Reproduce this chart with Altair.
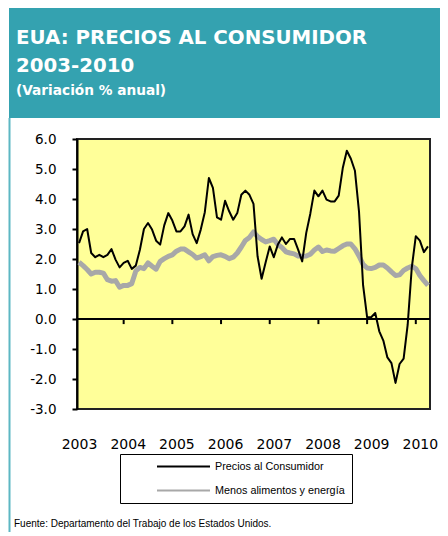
import altair as alt
import pandas as pd

# ---- data (monthly, Jan 2003 .. Mar 2010) ----
cpi = [2.53, 2.92, 3.00, 2.20, 2.06, 2.14, 2.06, 2.14, 2.33, 1.98, 1.72, 1.87,
       1.94, 1.67, 1.78, 2.31, 3.00, 3.20, 2.98, 2.61, 2.48, 3.12, 3.53, 3.28,
       2.92, 2.92, 3.09, 3.48, 2.83, 2.53, 2.98, 3.56, 4.70, 4.37, 3.39, 3.31,
       3.94, 3.59, 3.31, 3.53, 4.14, 4.28, 4.14, 3.84, 2.09, 1.34, 1.89, 2.42,
       2.06, 2.48, 2.72, 2.50, 2.67, 2.67, 2.31, 1.92, 2.87, 3.51, 4.28, 4.09,
       4.28, 3.98, 3.92, 3.92, 4.11, 5.03, 5.61, 5.34, 4.94, 3.59, 1.14, 0.06,
       0.06, 0.20, -0.41, -0.72, -1.28, -1.47, -2.13, -1.50, -1.32, -0.19, 1.70, 2.76,
       2.61, 2.23, 2.42]
core = [1.89, 1.78, 1.65, 1.50, 1.56, 1.56, 1.53, 1.31, 1.26, 1.28, 1.06, 1.12,
        1.12, 1.18, 1.60, 1.72, 1.68, 1.87, 1.76, 1.66, 1.92, 2.01, 2.09, 2.14,
        2.26, 2.33, 2.33, 2.24, 2.15, 2.03, 2.08, 2.14, 1.94, 2.08, 2.12, 2.14,
        2.09, 2.01, 2.06, 2.20, 2.40, 2.62, 2.72, 2.90, 2.75, 2.65, 2.57, 2.61,
        2.66, 2.48, 2.38, 2.24, 2.20, 2.17, 2.10, 2.09, 2.10, 2.16, 2.30, 2.40,
        2.25, 2.30, 2.27, 2.26, 2.35, 2.44, 2.50, 2.50, 2.34, 2.10, 1.82, 1.70,
        1.68, 1.72, 1.80, 1.80, 1.70, 1.57, 1.45, 1.47, 1.62, 1.70, 1.76, 1.68,
        1.45, 1.28, 1.12]
months = list(range(len(cpi)))
series = ["Precios al Consumidor", "Menos alimentos y energía"]
year_label_months = [0, 12, 24, 36, 48, 60, 72, 84]
dec_tick_months = [11, 23, 35, 47, 59, 71, 83]
y_ticks = [-3, -2, -1, 0, 1, 2, 3, 4, 5, 6]

title1 = "EUA: PRECIOS AL CONSUMIDOR"
title2 = "2003-2010"
title3 = "(Variación % anual)"
footer = "Fuente:  Departamento del Trabajo de los Estados Unidos."

TEAL = "#34A2B0"

df = pd.DataFrame({
    "mes": months * 2,
    "valor": cpi + core,
    "serie": [series[0]] * len(cpi) + [series[1]] * len(core),
})
ticks_df = pd.DataFrame({"mes": dec_tick_months})
one = alt.Data(values=[{}])

x_scale = alt.Scale(domain=[-0.5, 86.5], nice=False, zero=False)
y_scale = alt.Scale(domain=[-3, 6], nice=False, zero=False)

x_axis = alt.Axis(values=year_label_months,
                  labelExpr="'' + (2003 + datum.value / 12)",
                  ticks=False, tickSize=0, domain=False, grid=False,
                  labelFont="DejaVu Sans", labelFontSize=14,
                  labelColor="black", labelBaseline="middle",
                  labelOverlap=False, labelFlush=False,
                  labelPadding=35, title=None)
y_axis = alt.Axis(values=y_ticks,
                  labelExpr="(datum.value < 0 ? '-' : '') + format(abs(datum.value), '.1f')",
                  grid=False, domain=True, domainColor="black", domainWidth=2,
                  ticks=True, tickColor="black", tickWidth=2, tickSize=5,
                  labelFont="DejaVu Sans", labelFontSize=13.5,
                  labelOverlap=False, labelFlush=False,
                  labelColor="black", labelPadding=16, title=None)

x_enc = alt.X("mes:Q", scale=x_scale, axis=x_axis)
y_enc = alt.Y("valor:Q", scale=y_scale, axis=y_axis)
color_enc = alt.Color("serie:N",
                      scale=alt.Scale(domain=series, range=["#000000", "#A8A8A8"]),
                      legend=alt.Legend(orient="none", legendX=43, legendY=315,
                                        title=None, symbolType="stroke",
                                        symbolSize=2809, symbolStrokeWidth=2,
                                        clipHeight=11,
                                        symbolOffset=29, labelOffset=4,
                                        labelFont="Liberation Sans", labelFontSize=10.8,
                                        labelColor="black", padding=7, rowPadding=12,
                                        strokeColor="black", fillColor="white"))

gray_line = alt.Chart(df).transform_filter(
    alt.datum.serie == series[1]
).mark_line(strokeWidth=5, strokeJoin="round").encode(x=x_enc, y=y_enc, color=color_enc)

black_line = alt.Chart(df).transform_filter(
    alt.datum.serie == series[0]
).mark_line(strokeWidth=2, strokeJoin="round").encode(x=x_enc, y=y_enc, color=color_enc)

zero_line = alt.Chart(one).mark_rule(color="black", strokeWidth=2).encode(
    y=alt.YDatum(0, scale=y_scale, axis=y_axis))
zero_ticks = alt.Chart(ticks_df).mark_rule(color="black", strokeWidth=2).encode(
    x=x_enc, y=alt.YDatum(0, scale=y_scale, axis=y_axis), y2=alt.Y2Datum(-0.17))

header = alt.Chart(one).mark_rect(color=TEAL).encode(
    x=alt.value(-68), x2=alt.value(380), y=alt.value(-131), y2=alt.value(-21))
side = alt.Chart(one).mark_rule(color="#5DB7C3", strokeWidth=2).encode(
    x=alt.value(-67.5), y=alt.value(-21), y2=alt.value(400))

def txt(s, x, y, size, weight="normal", color="white", font="DejaVu Sans"):
    return alt.Chart(one).mark_text(text=s, align="left", baseline="alphabetic",
                                    font=font, fontSize=size, fontWeight=weight,
                                    color=color).encode(x=alt.value(x), y=alt.value(y))

t1 = txt(title1, -61, -95, 19.8, "bold")
t2 = txt(title2, -61, -67, 19.8, "bold")
t3 = txt(title3, -61, -44, 13.7, "bold")
foot = txt(footer, -63, 388, 10, color="black", font="Liberation Sans")

chart = alt.layer(
    gray_line, header, side, t1, t2, t3, zero_line, black_line, zero_ticks, foot
).properties(
    width=353, height=270,
    autosize=alt.AutoSizeParams(type="none"),
    padding={"left": 69, "top": 131, "right": 10, "bottom": 123},
    background="white",
).configure_view(fill="#FFFF99", stroke="#222222", strokeWidth=2)

chart.save("out.html", embed_options={"renderer": "svg", "actions": False})
